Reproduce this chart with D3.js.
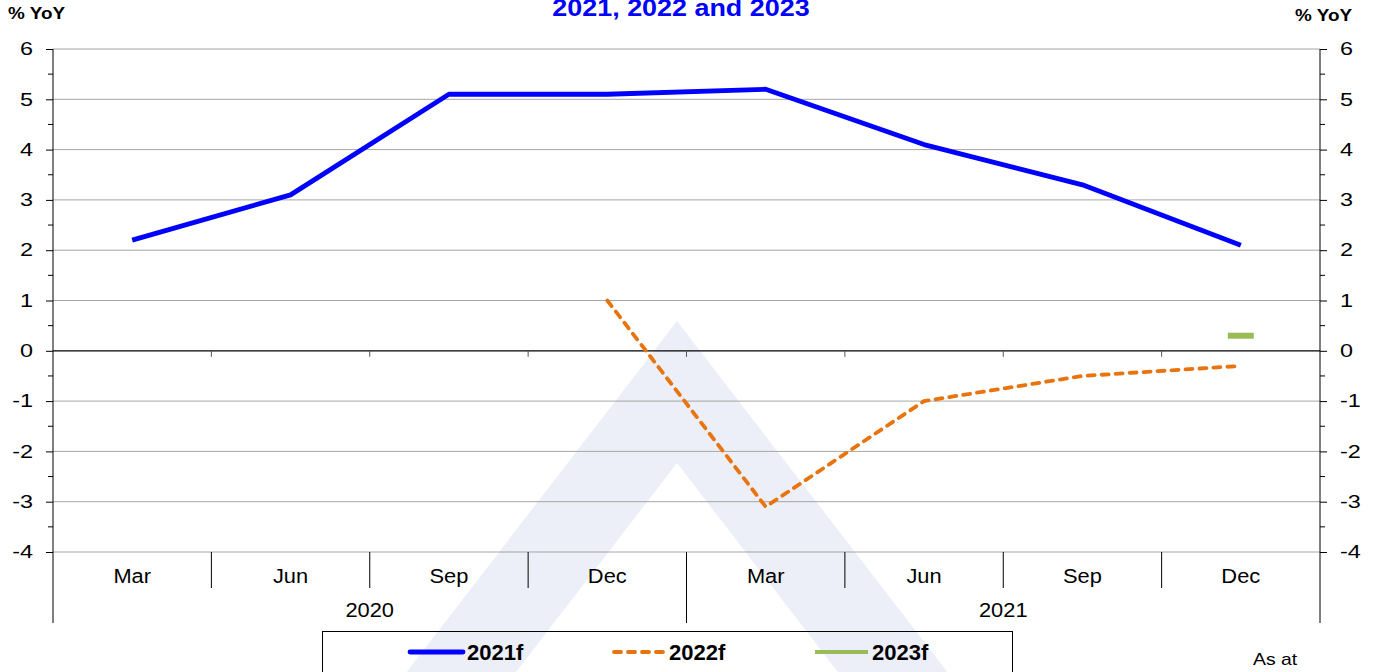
<!DOCTYPE html>
<html>
<head>
<meta charset="utf-8">
<script src="https://cdn.jsdelivr.net/npm/d3@7"></script>
<style>
  body { margin: 0; background: #fff; }
  svg { display: block; font-family: "Liberation Sans", Arial, sans-serif; }
</style>
</head>
<body>
<svg id="chart" width="1375" height="672"></svg>
<script>
// data
var years = ["2020", "2021"];
var periods = ["2020 Mar", "2020 Jun", "2020 Sep", "2020 Dec", "2021 Mar", "2021 Jun", "2021 Sep", "2021 Dec"];
var f2021 = [2.2, 3.1, 5.1, 5.1, 5.2, 4.1, 3.3, 2.1];
var f2022 = [null, null, null, 1.0, -3.1, -1.0, -0.5, -0.3];
var f2023 = [null, null, null, null, null, null, null, 0.3];
var yTicks = [-4, -3, -2, -1, 0, 1, 2, 3, 4, 5, 6];
var seriesNames = ["2021f", "2022f", "2023f"];

var svg = d3.select("#chart");
var pLeft = 53, pRight = 1320, pTop = 49, pBottom = 552;

var x = d3.scaleBand().domain(periods).range([pLeft, pRight]);
var y = d3.scaleLinear().domain([-4, 6]).range([pBottom, pTop]);

// the source picture has its text a bit wider than normal
function stretch(sel, k) {
  sel.each(function() {
    var w = this.getComputedTextLength();
    d3.select(this).attr("textLength", w * k).attr("lengthAdjust", "spacingAndGlyphs");
  });
}

// watermark chevron
var ax = 677, s = 0.77;
var outerTop = 321, innerTop = 463, yb = 700;
var wm = "M" + ax + "," + outerTop +
  " L" + (ax + s * (yb - outerTop)) + "," + yb +
  " L" + (ax + s * (yb - innerTop)) + "," + yb +
  " L" + ax + "," + innerTop +
  " L" + (ax - s * (yb - innerTop)) + "," + yb +
  " L" + (ax - s * (yb - outerTop)) + "," + yb + " Z";
svg.append("path").attr("d", wm).attr("fill", "#eceef8");

// gridlines
svg.append("g").selectAll("line").data(yTicks.filter(d => d != 0)).enter().append("line")
  .attr("x1", pLeft).attr("x2", pRight)
  .attr("y1", d => y(d)).attr("y2", d => y(d))
  .attr("stroke", "#a6a6a6").attr("stroke-width", 1);

// left + right axes
var yLeft = d3.axisLeft(y).tickValues(yTicks).tickSize(7).tickPadding(13).tickFormat(d => String(d));
var gl = svg.append("g").attr("transform", `translate(${pLeft},0)`).call(yLeft);
var yRight = d3.axisRight(y).tickValues(yTicks).tickSize(7).tickPadding(13).tickFormat(d => String(d));
var gr = svg.append("g").attr("transform", `translate(${pRight},0)`).call(yRight);
[gl, gr].forEach(function(g) {
  g.select(".domain").remove();
  g.selectAll("text").attr("font-size", 18).attr("font-family", "Liberation Sans, Arial, sans-serif").attr("fill", "#000");
  g.selectAll("line").attr("stroke", "#000");
  stretch(g.selectAll("text"), 1.3);
});

// minor ticks
var minors = d3.range(-3.5, 6, 1);
svg.append("g").selectAll("line").data(minors).enter().append("line")
  .attr("x1", pLeft - 5).attr("x2", pLeft).attr("y1", d => y(d)).attr("y2", d => y(d)).attr("stroke", "#000");
svg.append("g").selectAll("line").data(minors).enter().append("line")
  .attr("x1", pRight).attr("x2", pRight + 5).attr("y1", d => y(d)).attr("y2", d => y(d)).attr("stroke", "#000");

// vertical axis lines
svg.append("line").attr("x1", pLeft).attr("x2", pLeft).attr("y1", pTop).attr("y2", 623).attr("stroke", "#000");
svg.append("line").attr("x1", pRight).attr("x2", pRight).attr("y1", pTop).attr("y2", 623).attr("stroke", "#000");

// zero line with small ticks
svg.append("line").attr("x1", pLeft).attr("x2", pRight).attr("y1", y(0)).attr("y2", y(0)).attr("stroke", "#000").attr("stroke-width", 1.3);
svg.append("g").selectAll("line").data(periods.slice(1)).enter().append("line")
  .attr("x1", d => x(d)).attr("x2", d => x(d))
  .attr("y1", y(0)).attr("y2", y(0) + 6).attr("stroke", "#555");

// category axis
svg.append("g").selectAll("line").data(periods.slice(1)).enter().append("line")
  .attr("x1", d => x(d)).attr("x2", d => x(d))
  .attr("y1", pBottom).attr("y2", d => d == "2021 Mar" ? 623 : 588)
  .attr("stroke", "#000");
var catLabels = svg.append("g").selectAll("text").data(periods).enter().append("text")
  .attr("x", d => x(d) + x.bandwidth() / 2).attr("y", 583)
  .attr("text-anchor", "middle").attr("font-size", 19.5)
  .text(d => d.split(" ")[1]);
stretch(catLabels, 1.12);
var yearLabels = svg.append("g").selectAll("text").data(years).enter().append("text")
  .attr("x", d => (x(d + " Mar") + x(d + " Dec") + x.bandwidth()) / 2).attr("y", 617)
  .attr("text-anchor", "middle").attr("font-size", 19.5)
  .text(d => d);
stretch(yearLabels, 1.12);

// series
var line = d3.line().defined(d => d[1] != null).x(d => x(d[0]) + x.bandwidth() / 2).y(d => y(d[1]));
svg.append("path").datum(d3.zip(periods, f2021)).attr("d", line)
  .attr("fill", "none").attr("stroke", "#0000ff").attr("stroke-width", 4.8).attr("stroke-linejoin", "round");
svg.append("path").datum(d3.zip(periods, f2022)).attr("d", line)
  .attr("fill", "none").attr("stroke", "#e8740f").attr("stroke-width", 3.8)
  .attr("stroke-dasharray", "7,7").attr("stroke-linecap", "round");
svg.append("g").selectAll("line").data(d3.zip(periods, f2023).filter(d => d[1] != null)).enter().append("line")
  .attr("x1", d => x(d[0]) + x.bandwidth() / 2 - 13).attr("x2", d => x(d[0]) + x.bandwidth() / 2 + 13)
  .attr("y1", d => y(d[1])).attr("y2", d => y(d[1]))
  .attr("stroke", "#9bbb59").attr("stroke-width", 6);

// titles
var title = svg.append("text").attr("x", 681).attr("y", 16).attr("text-anchor", "middle")
  .attr("font-size", 23).attr("font-weight", "bold").attr("fill", "#0000ff").text("2021, 2022 and 2023");
stretch(title, 1.17);
var unitL = svg.append("text").attr("x", 8).attr("y", 19).attr("font-size", 16).attr("font-weight", "bold").text("% YoY");
var unitR = svg.append("text").attr("x", 1295).attr("y", 21).attr("font-size", 16).attr("font-weight", "bold").text("% YoY");
stretch(unitL, 1.18);
stretch(unitR, 1.18);

// legend
svg.append("rect").attr("x", 322.5).attr("y", 631.5).attr("width", 690).attr("height", 60)
  .attr("fill", "none").attr("stroke", "#000");
var legX = [410, 612, 815];
var legColor = ["#0000ff", "#e8740f", "#9bbb59"];
var legWidth = [4.8, 3.8, 4];
var legDash = [null, "7,7", null];
var lg = svg.append("g").selectAll("g").data(seriesNames).enter().append("g")
  .attr("transform", (d, i) => `translate(${legX[i]},652)`);
lg.append("line").attr("x1", (d, i) => i == 1 ? 2 : 0).attr("x2", 53).attr("y1", 0).attr("y2", 0)
  .attr("stroke", (d, i) => legColor[i]).attr("stroke-width", (d, i) => legWidth[i])
  .attr("stroke-dasharray", (d, i) => legDash[i]).attr("stroke-linecap", (d, i) => i < 2 ? "round" : null);
lg.append("text").attr("x", 57).attr("y", 7.5).attr("font-size", 22).attr("font-weight", "bold").text(d => d);

var asAt = svg.append("text").attr("x", 1253).attr("y", 665).attr("font-size", 17).text("As at");
stretch(asAt, 1.14);
</script>
</body>
</html>
